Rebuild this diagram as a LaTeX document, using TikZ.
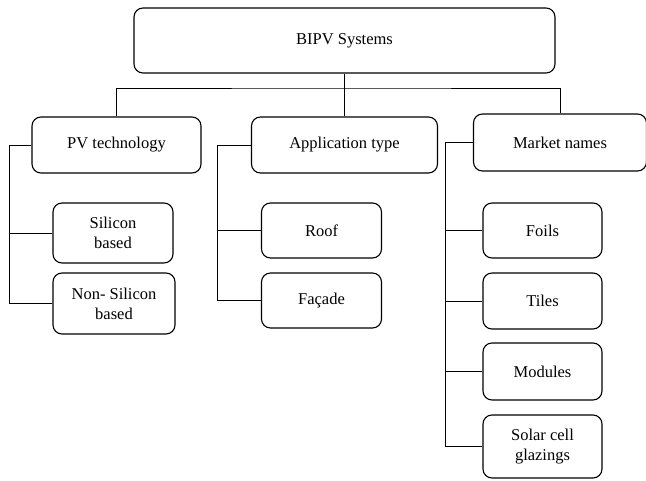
\documentclass[tikz,border=0pt]{standalone}
\usepackage{fontspec}
\setmainfont{LiberationSerif}[Extension = .ttf, UprightFont = *-Regular]
\usepackage{tikz}
\usetikzlibrary{calc}

\begin{document}
\begin{tikzpicture}[x = 1pt, y = -1pt,
    box/.style = {draw, rounded corners = 9pt, line width = 1.1pt, align = center,
      inner sep = 0pt, font = \rmfamily\fontsize{16.5}{20}\selectfont},
    link/.style = {line width = 0.9pt}]
      \useasboundingbox (0, 0) rectangle (646, 480);

      % top level
      \node[box, minimum width = 421, minimum height = 65] (bipv) at (344.5, 40.5) {BIPV Systems};
      \node[box, minimum width = 169, minimum height = 56] (pv) at (116.5, 145) {PV technology};
      \node[box, minimum width = 186, minimum height = 56] (app) at (344.5, 145) {Application type};
      \node[box, minimum width = 173, minimum height = 57] (mkt) at (560, 142.5) {Market names};

      % second level
      \node[box, minimum width = 120, minimum height = 60] (sil) at (113, 233) {Silicon\\based};
      \node[box, minimum width = 122, minimum height = 61] (nonsil) at (114, 303.5) {Non- Silicon\\based};
      \node[box, minimum width = 120, minimum height = 55] (roof) at (321.5, 230.5) {Roof};
      \node[box, minimum width = 120, minimum height = 55] (facade) at (321.5, 300.5) {Façade};
      \node[box, minimum width = 119, minimum height = 55] (foils) at (542.5, 230.5) {Foils};
      \node[box, minimum width = 119, minimum height = 56] (tiles) at (542.5, 301) {Tiles};
      \node[box, minimum width = 119, minimum height = 57] (modules) at (542.5, 371.5) {Modules};
      \node[box, minimum width = 119, minimum height = 63] (solar) at (542.5, 446.5) {Solar cell\\glazings};

      % joints
      \coordinate (bar) at (344.5, 88);
      \coordinate (pvL) at (9, 145);
      \coordinate (appL) at (217, 145);
      \coordinate (mktL) at (445, 142.5);

      \draw[link] (bipv) -- (app);
      \draw[link] (pv.north) |- (bar) -| (mkt.north);

      \draw[link] (pv.west) -- (pvL) |- (nonsil.west);
      \draw[link] (pvL) |- (sil.west);

      \draw[link] (app.west) -- (appL) |- (facade.west);
      \draw[link] (appL) |- (roof.west);

      \draw[link] (mkt.west) -- (mktL);
      \foreach \n in {foils, tiles, modules, solar} {
        \draw[link] (mktL) |- (\n.west);
      }
    \end{tikzpicture}
\end{document}
